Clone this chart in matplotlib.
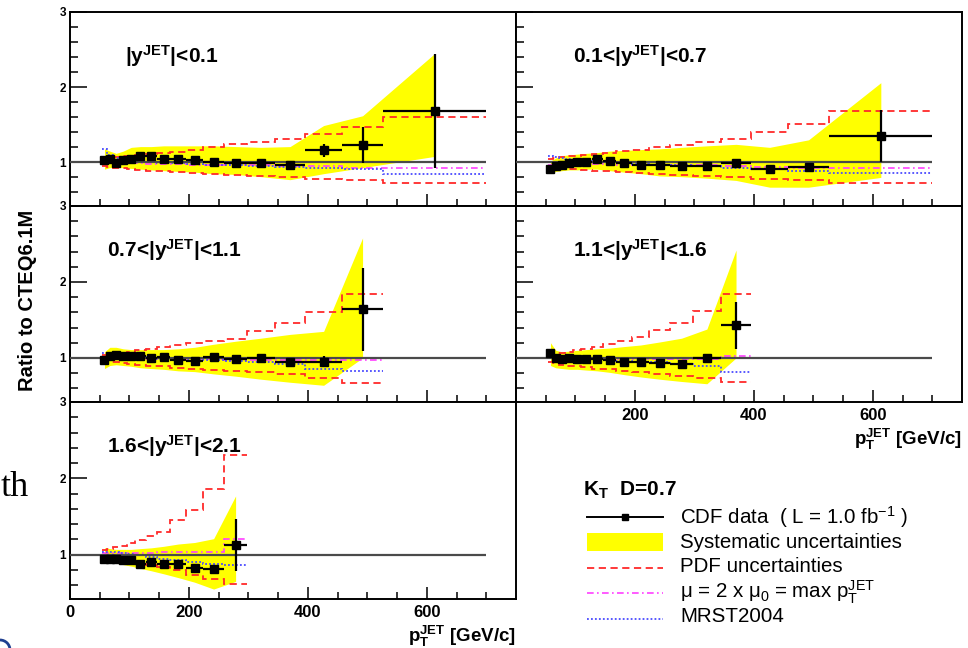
import numpy as np
import matplotlib
matplotlib.use('Agg')
import matplotlib.pyplot as plt
from matplotlib.patches import Rectangle, Arc

plt.rcParams['font.family'] = ['Liberation Sans', 'DejaVu Sans']
plt.rcParams['mathtext.fontset'] = 'custom'
plt.rcParams['mathtext.rm'] = 'Liberation Sans'
plt.rcParams['mathtext.it'] = 'Liberation Sans'
plt.rcParams['mathtext.bf'] = 'Liberation Sans:bold'

# kT jet pT bins (GeV/c), shared by all rapidity regions
pt_edges = [54, 62, 72, 83, 96, 110, 127, 146, 169, 195, 224, 259, 298, 344, 396, 457, 527, 700]

# |y| < 0.1
y1_ratio = [1.03, 1.04, 0.99, 1.03, 1.05, 1.09, 1.09, 1.05, 1.05, 1.035, 1.005, 0.99, 0.995, 0.96, 1.16, 1.23, 1.68]
y1_stat = [0.01, 0.01, 0.01, 0.01, 0.01, 0.01, 0.01, 0.01, 0.01, 0.01, 0.01, 0.02, 0.02, 0.03, 0.09, 0.24, 0.76]
y1_sys_up = [1.18, 1.15, 1.12, 1.15, 1.20, 1.21, 1.21, 1.22, 1.22, 1.22, 1.22, 1.21, 1.20, 1.21, 1.49, 1.62, 2.45]
y1_sys_dn = [0.91, 0.93, 0.93, 0.93, 0.92, 0.91, 0.90, 0.89, 0.88, 0.87, 0.85, 0.84, 0.81, 0.77, 0.85, 0.93, 1.08]
y1_pdf_up = [1.06, 1.06, 1.07, 1.08, 1.09, 1.10, 1.11, 1.12, 1.14, 1.17, 1.21, 1.24, 1.27, 1.31, 1.38, 1.47, 1.61]
y1_pdf_dn = [0.95, 0.94, 0.93, 0.92, 0.91, 0.90, 0.89, 0.885, 0.875, 0.865, 0.85, 0.835, 0.82, 0.80, 0.78, 0.76, 0.72]
y1_mu = [1.00, 0.99, 0.99, 0.99, 0.99, 0.99, 0.98, 0.98, 0.98, 0.97, 0.97, 0.96, 0.96, 0.95, 0.95, 0.93, 0.92]
y1_mrst = [1.18, 1.10, 1.06, 1.04, 1.02, 1.01, 1.00, 0.99, 0.99, 0.98, 0.97, 0.96, 0.95, 0.94, 0.93, 0.91, 0.85]

# 0.1 < |y| < 0.7
y2_ratio = [0.91, 0.95, 0.97, 0.99, 1.00, 1.00, 1.045, 1.02, 0.99, 0.965, 0.965, 0.95, 0.955, 0.99, 0.91, 0.935, 1.35]
y2_stat = [0.01, 0.01, 0.01, 0.01, 0.01, 0.01, 0.01, 0.01, 0.01, 0.01, 0.01, 0.01, 0.02, 0.02, 0.03, 0.05, 0.35]
y2_sys_up = [1.02, 1.06, 1.09, 1.10, 1.11, 1.12, 1.13, 1.15, 1.16, 1.17, 1.18, 1.20, 1.22, 1.24, 1.20, 1.30, 2.06]
y2_sys_dn = [0.85, 0.88, 0.89, 0.90, 0.90, 0.91, 0.91, 0.89, 0.87, 0.85, 0.82, 0.81, 0.79, 0.76, 0.67, 0.67, 0.80]
y2_pdf_up = [1.05, 1.06, 1.07, 1.08, 1.09, 1.10, 1.11, 1.13, 1.15, 1.17, 1.20, 1.23, 1.27, 1.31, 1.40, 1.51, 1.69]
y2_pdf_dn = [0.94, 0.93, 0.92, 0.915, 0.91, 0.90, 0.89, 0.88, 0.87, 0.86, 0.84, 0.83, 0.82, 0.80, 0.78, 0.76, 0.72]
y2_mu = [0.96, 0.97, 0.97, 0.98, 0.98, 0.98, 0.98, 0.98, 0.97, 0.97, 0.97, 0.96, 0.96, 0.95, 0.94, 0.93, 0.92]
y2_mrst = [1.08, 1.07, 1.06, 1.04, 1.03, 1.02, 1.01, 1.00, 0.99, 0.98, 0.97, 0.96, 0.95, 0.93, 0.91, 0.89, 0.86]

# 0.7 < |y| < 1.1
y3_ratio = [0.97, 1.02, 1.04, 1.03, 1.03, 1.02, 1.00, 1.01, 0.97, 0.96, 1.01, 0.99, 1.00, 0.95, 0.95, 1.64]
y3_stat = [0.01, 0.01, 0.01, 0.01, 0.01, 0.01, 0.01, 0.01, 0.01, 0.01, 0.01, 0.02, 0.02, 0.03, 0.07, 0.55]
y3_sys_up = [1.08, 1.14, 1.14, 1.12, 1.11, 1.11, 1.11, 1.11, 1.12, 1.14, 1.18, 1.22, 1.26, 1.31, 1.35, 2.58]
y3_sys_dn = [0.86, 0.90, 0.91, 0.90, 0.89, 0.87, 0.86, 0.85, 0.83, 0.82, 0.79, 0.76, 0.72, 0.68, 0.64, 1.00]
y3_pdf_up = [1.04, 1.05, 1.06, 1.07, 1.08, 1.10, 1.12, 1.14, 1.17, 1.20, 1.22, 1.25, 1.36, 1.46, 1.61, 1.84]
y3_pdf_dn = [0.96, 0.95, 0.94, 0.93, 0.92, 0.91, 0.90, 0.89, 0.87, 0.86, 0.84, 0.83, 0.81, 0.79, 0.73, 0.67]
y3_mu = [1.00, 1.00, 0.99, 0.99, 0.99, 0.99, 0.99, 0.98, 0.98, 0.98, 0.98, 0.97, 0.97, 0.97, 0.97, 0.97]
y3_mrst = [1.06, 1.04, 1.03, 1.02, 1.01, 1.01, 1.00, 0.99, 0.99, 0.98, 0.97, 0.96, 0.94, 0.92, 0.86, 0.83]

# 1.1 < |y| < 1.6
y4_ratio = [1.06, 1.00, 0.99, 1.00, 0.99, 0.99, 0.98, 0.97, 0.95, 0.95, 0.93, 0.92, 0.995, 1.43]
y4_stat = [0.01, 0.01, 0.01, 0.01, 0.01, 0.01, 0.01, 0.01, 0.01, 0.01, 0.02, 0.02, 0.04, 0.31]
y4_sys_up = [1.20, 1.10, 1.08, 1.09, 1.10, 1.11, 1.12, 1.13, 1.15, 1.17, 1.21, 1.26, 1.38, 2.42]
y4_sys_dn = [0.90, 0.87, 0.86, 0.85, 0.85, 0.84, 0.83, 0.81, 0.78, 0.75, 0.72, 0.69, 0.66, 1.00]
y4_pdf_up = [1.05, 1.06, 1.07, 1.08, 1.10, 1.12, 1.15, 1.18, 1.22, 1.28, 1.37, 1.46, 1.62, 1.84]
y4_pdf_dn = [0.95, 0.93, 0.91, 0.90, 0.89, 0.88, 0.86, 0.85, 0.83, 0.81, 0.79, 0.76, 0.74, 0.68]
y4_mu = [1.00, 0.99, 0.99, 0.99, 0.99, 0.99, 0.99, 0.98, 0.98, 0.98, 0.98, 0.98, 0.99, 1.02]
y4_mrst = [1.06, 1.04, 1.02, 1.01, 1.00, 0.99, 0.98, 0.97, 0.96, 0.95, 0.94, 0.92, 0.90, 0.82]

# 1.6 < |y| < 2.1
y5_ratio = [0.95, 0.94, 0.94, 0.93, 0.93, 0.88, 0.90, 0.88, 0.88, 0.83, 0.81, 1.13]
y5_stat = [0.01, 0.01, 0.01, 0.01, 0.01, 0.01, 0.01, 0.01, 0.02, 0.02, 0.03, 0.34]
y5_sys_up = [1.09, 1.08, 1.07, 1.07, 1.07, 1.08, 1.09, 1.11, 1.14, 1.16, 1.21, 1.77]
y5_sys_dn = [0.91, 0.90, 0.89, 0.87, 0.85, 0.82, 0.79, 0.75, 0.70, 0.64, 0.55, 0.65]
y5_pdf_up = [1.06, 1.08, 1.10, 1.12, 1.15, 1.19, 1.24, 1.30, 1.46, 1.59, 1.86, 2.30]
y5_pdf_dn = [0.94, 0.93, 0.93, 0.92, 0.91, 0.88, 0.86, 0.84, 0.80, 0.74, 0.68, 0.62]
y5_mu = [1.02, 1.02, 1.02, 1.02, 1.02, 1.02, 1.02, 1.03, 1.03, 1.03, 1.04, 1.20]
y5_mrst = [1.04, 1.04, 1.03, 1.02, 1.01, 0.99, 0.97, 0.95, 0.93, 0.90, 0.88, 0.87]

region_labels = [r'$\mathbf{|y^{JET}|}$<0.1', r'0.1<$\mathbf{|y^{JET}|}$<0.7', r'0.7<$\mathbf{|y^{JET}|}$<1.1',
                 r'1.1<$\mathbf{|y^{JET}|}$<1.6', r'1.6<$\mathbf{|y^{JET}|}$<2.1']

W, H = 968, 648
fig = plt.figure(figsize=(W / 100, H / 100), dpi=100)


def px_rect(x0, y0, x1, y1):
    return [x0 / W, 1 - y1 / H, (x1 - x0) / W, (y1 - y0) / H]


cols = [(70, 516), (516, 962)]
rows = [(12, 206), (206, 402), (402, 599)]
cells = [(0, 0), (0, 1), (1, 0), (1, 1), (2, 0)]
panels = [
    (y1_ratio, y1_stat, y1_sys_up, y1_sys_dn, y1_pdf_up, y1_pdf_dn, y1_mu, y1_mrst),
    (y2_ratio, y2_stat, y2_sys_up, y2_sys_dn, y2_pdf_up, y2_pdf_dn, y2_mu, y2_mrst),
    (y3_ratio, y3_stat, y3_sys_up, y3_sys_dn, y3_pdf_up, y3_pdf_dn, y3_mu, y3_mrst),
    (y4_ratio, y4_stat, y4_sys_up, y4_sys_dn, y4_pdf_up, y4_pdf_dn, y4_mu, y4_mrst),
    (y5_ratio, y5_stat, y5_sys_up, y5_sys_dn, y5_pdf_up, y5_pdf_dn, y5_mu, y5_mrst),
]

edges_all = np.array(pt_edges, dtype=float)
pdf_style = dict(color='#ff2a2a', lw=1.3, ls=(0, (4, 2.5)), zorder=2)
mu_style = dict(color='#ff40ff', lw=1.2, ls=(0, (4, 2, 1, 2)), zorder=2)
mrst_style = dict(color='#4a4aff', lw=1.3, ls=(0, (1, 1.2)), zorder=2)

for i, ((r, c), data) in enumerate(zip(cells, panels)):
    ratio, stat, sys_up, sys_dn, pdf_up, pdf_dn, mu, mrst = [np.array(d) for d in data]
    n = len(ratio)
    e = edges_all[:n + 1]
    centers = 0.5 * (e[:-1] + e[1:])

    x0, x1 = cols[c]
    y0, y1 = rows[r]
    ax = fig.add_axes(px_rect(x0, y0, x1, y1))

    # systematic band, PDF / scale / MRST histograms, reference line, data
    ax.fill_between(centers, sys_dn, sys_up, color='#ffff00', lw=0, zorder=1)
    ax.stairs(pdf_up, e, baseline=None, **pdf_style)
    ax.stairs(pdf_dn, e, baseline=None, **pdf_style)
    ax.stairs(mu, e, baseline=None, **mu_style)
    ax.stairs(mrst, e, baseline=None, **mrst_style)
    ax.hlines(1, 0, 700, color='#4a4a4a', lw=1.6, zorder=3)
    ax.errorbar(centers, ratio, yerr=stat, xerr=[centers - e[:-1], e[1:] - centers],
                fmt='s', ms=6.3, color='black', ecolor='black', elinewidth=1.6,
                capsize=0, zorder=5)

    ax.set_xlim(0, 750)
    ax.set_ylim(0.42, 3.0)
    ax.set_xticks([0, 200, 400, 600])
    ax.set_xticks(np.arange(50, 701, 50), minor=True)
    ax.set_yticks([1, 2, 3])
    ax.set_yticks(np.arange(0.6, 2.9, 0.2), minor=True)
    ax.tick_params(which='both', direction='in', top=False, right=False, width=1.1)
    ax.tick_params(axis='x', which='major', length=9, pad=4)
    ax.tick_params(axis='x', which='minor', length=5)
    ax.tick_params(axis='y', which='major', length=12, pad=3)
    ax.tick_params(axis='y', which='minor', length=6)
    for s in ax.spines.values():
        s.set_linewidth(1.4)

    for lab in ax.get_xticklabels() + ax.get_yticklabels():
        lab.set_fontweight('bold')
    ax.tick_params(axis='x', labelsize=12)
    ax.tick_params(axis='y', labelsize=8.5)

    if c == 1:
        ax.set_yticklabels([])
    if (r, c) == (1, 1):
        ax.set_xticklabels(['', '200', '400', '600'])
    elif (r, c) != (2, 0):
        ax.set_xticklabels([])

    lx = 0.124 if i == 0 else (0.128 if c == 1 else 0.083)
    ax.text(lx, 0.775, region_labels[i], transform=ax.transAxes, fontsize=15,
            fontweight='bold', va='center', ha='left')

    if (r, c) in [(1, 1), (2, 0)]:
        ax.text(1.0, -0.19, r'$\mathbf{p_{T}^{JET}}$ [GeV/c]', transform=ax.transAxes,
                ha='right', va='center', fontsize=13.5, fontweight='bold')

fig.text(28 / W, 1 - 300 / H, 'Ratio to CTEQ6.1M', rotation=90, ha='center', va='center',
         fontsize=14.5, fontweight='bold')

# legend block in the empty lower-right cell, drawn in pixel coordinates
lax = fig.add_axes([0, 0, 1, 1])
lax.set_xlim(0, W)
lax.set_ylim(H, 0)
lax.axis('off')
lax.patch.set_alpha(0)

leg_fs = 14.8
lax.text(583, 490, r'$\mathbf{K_{T}}$  D=0.7', fontsize=15, fontweight='bold', va='center')
hx0, hx1, tx = 587, 663, 680
lax.plot([hx0, hx1], [517, 517], color='black', lw=1.4)
lax.plot([(hx0 + hx1) / 2], [517], 's', color='black', ms=4.5)
lax.text(tx, 517, r'CDF data  ( L = 1.0 fb$^{\mathregular{-1}}$ )', fontsize=leg_fs, va='center')
lax.add_patch(Rectangle((hx0, 533), hx1 - hx0, 18, color='#ffff00', lw=0))
lax.text(tx, 542, 'Systematic uncertainties', fontsize=leg_fs, va='center')
lax.plot([hx0, hx1], [568, 568], **pdf_style)
lax.text(tx, 566, 'PDF uncertainties', fontsize=leg_fs, va='center')
lax.plot([hx0, hx1], [593, 593], **mu_style)
lax.text(tx, 592, r'$\mu$ = 2 x $\mu_{0}$ = max p$_{T}^{JET}$', fontsize=leg_fs, va='center')
lax.plot([hx0, hx1], [619, 619], **mrst_style)
lax.text(tx, 617, 'MRST2004', fontsize=leg_fs, va='center')

# slide fragments around the plot
lax.text(1, 496, 'th', fontsize=26, family=['Liberation Serif', 'DejaVu Serif'],
         ha='left', va='baseline')
lax.add_patch(Arc((0, 650), 20, 20, theta1=270, theta2=360, color='#1f3f8f', lw=2))

fig.savefig('out.png', dpi=100)
